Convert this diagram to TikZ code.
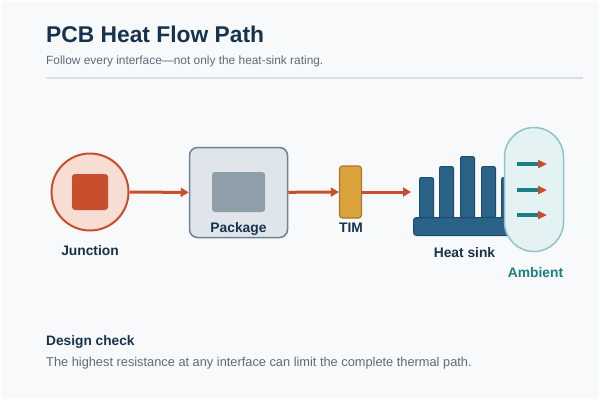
\documentclass[tikz,border=0pt]{standalone}
\usepackage{fontspec}
\setmainfont{Liberation Sans}
\usetikzlibrary{arrows.meta}

\definecolor{pagebg}{HTML}{F7F9FA}
\definecolor{navy}{HTML}{17324D}
\definecolor{textgray}{HTML}{5E6B78}
\definecolor{rulegray}{HTML}{D9E0E6}
\definecolor{heatred}{HTML}{C94F2C}
\definecolor{junctionfill}{HTML}{F7DDD3}
\definecolor{pkgfill}{HTML}{DFE5EB}
\definecolor{pkgedge}{HTML}{6E8292}
\definecolor{chipgray}{HTML}{8E9FAA}
\definecolor{timfill}{HTML}{DBA23C}
\definecolor{timedge}{HTML}{A9792B}
\definecolor{sinkblue}{HTML}{2B6287}
\definecolor{sinkedge}{HTML}{1E4B6B}
\definecolor{airfill}{HTML}{E4F2F3}
\definecolor{airedge}{HTML}{91C4C9}
\definecolor{airteal}{HTML}{1E7F82}

\begin{document}
\begin{tikzpicture}[x=1pt,y=-1pt]
      \tikzset{heatflow/.style={draw=heatred, line width=3pt, -{Triangle[length=8pt,width=9pt]}},
               airflow/.style={draw=airteal, line width=3.5pt, -{Triangle[length=9pt,width=8pt,color=heatred]}},
               partlabel/.style={font=\fontsize{13.8}{16}\selectfont\bfseries, text=navy, anchor=base, inner sep=0pt},
               fin/.style={fill=sinkblue, draw=sinkedge, line width=1pt, rounded corners=2pt}}

      % page
      \fill[white] (0,0) rectangle (600,400);
      \fill[pagebg] (1,1) rectangle (599,399);

      % heading
      \node[anchor=base west, inner sep=0pt, text=navy, font=\fontsize{22.8}{26}\selectfont\bfseries] (title) at (46,42) {PCB Heat Flow Path};
      \node[anchor=base west, inner sep=0pt, text=textgray, font=\fontsize{11.9}{14}\selectfont] (subtitle) at (46,64) {Follow every interface—not only the heat-sink rating.};
      \draw[rulegray, line width=1.5pt] (46,78) -- (583,78);

      % junction
      \node[circle, draw=heatred, line width=2pt, fill=junctionfill, minimum size=77pt, inner sep=0pt] (junction) at (90,192) {};
      \node[fill=heatred, rounded corners=3pt, minimum size=36pt, inner sep=0pt] (die) at (90,192) {};
      \node[partlabel] (junctionlbl) at (90,255.5) {Junction};

      % package
      \node[draw=pkgedge, line width=1.5pt, fill=pkgfill, rounded corners=8pt, minimum width=98pt, minimum height=90pt, inner sep=0pt] (package) at (238.5,192.5) {};
      \node[fill=chipgray, rounded corners=3pt, minimum width=53pt, minimum height=40pt, inner sep=0pt] (chip) at (238.5,192) {};
      \node[partlabel] (packagelbl) at (238.5,232) {Package};

      % thermal interface material
      \node[draw=timedge, line width=1.2pt, fill=timfill, rounded corners=3pt, minimum width=22pt, minimum height=52pt, inner sep=0pt] (tim) at (350.5,192) {};
      \node[partlabel] (timlbl) at (351,232.5) {TIM};

      % heat sink
      \draw[fin] (419.5,177.5) rectangle (433.5,222);
      \draw[fin] (439.5,166.5) rectangle (453.5,222);
      \draw[fin] (460.5,156.5) rectangle (474.5,222);
      \draw[fin] (481.5,166.5) rectangle (495.5,222);
      \draw[fin] (501.5,177.5) rectangle (515.5,222);
      \node[fill=sinkblue, draw=sinkedge, line width=1pt, rounded corners=3pt, minimum width=108pt, minimum height=18pt, inner sep=0pt] (sinkbase) at (467.5,226.5) {};
      \node[partlabel] (sinklbl) at (464.5,257) {Heat sink};

      % ambient air
      \node[draw=airedge, line width=1.5pt, fill=airfill, rounded corners=29.5pt, minimum width=59pt, minimum height=124pt, inner sep=0pt] (ambient) at (534,189.5) {};
      \node[partlabel, text=airteal] (ambientlbl) at (535.5,277.5) {Ambient};
      \coordinate (air1in) at (517,164);
      \coordinate (air1out) at (547,164);
      \coordinate (air2in) at (517,190);
      \coordinate (air2out) at (547,190);
      \coordinate (air3in) at (517,215);
      \coordinate (air3out) at (547,215);

      \draw[airflow] (air1in) -- (air1out);
      \draw[airflow] (air2in) -- (air2out);
      \draw[airflow] (air3in) -- (air3out);

      % heat path
      \draw[heatflow] (junction) -- (package);
      \draw[heatflow] (package) -- (tim);
      \draw[heatflow, shorten >=2pt] (tim) -- (tim -| sinkbase.west);

      % note
      \node[anchor=base west, inner sep=0pt, text=navy, font=\fontsize{13.7}{16}\selectfont\bfseries] (checktitle) at (46,345) {Design check};
      \node[anchor=base west, inner sep=0pt, text=textgray, font=\fontsize{12.8}{15}\selectfont] (checktext) at (46,366.5) {The highest resistance at any interface can limit the complete thermal path.};
\end{tikzpicture}
\end{document}
